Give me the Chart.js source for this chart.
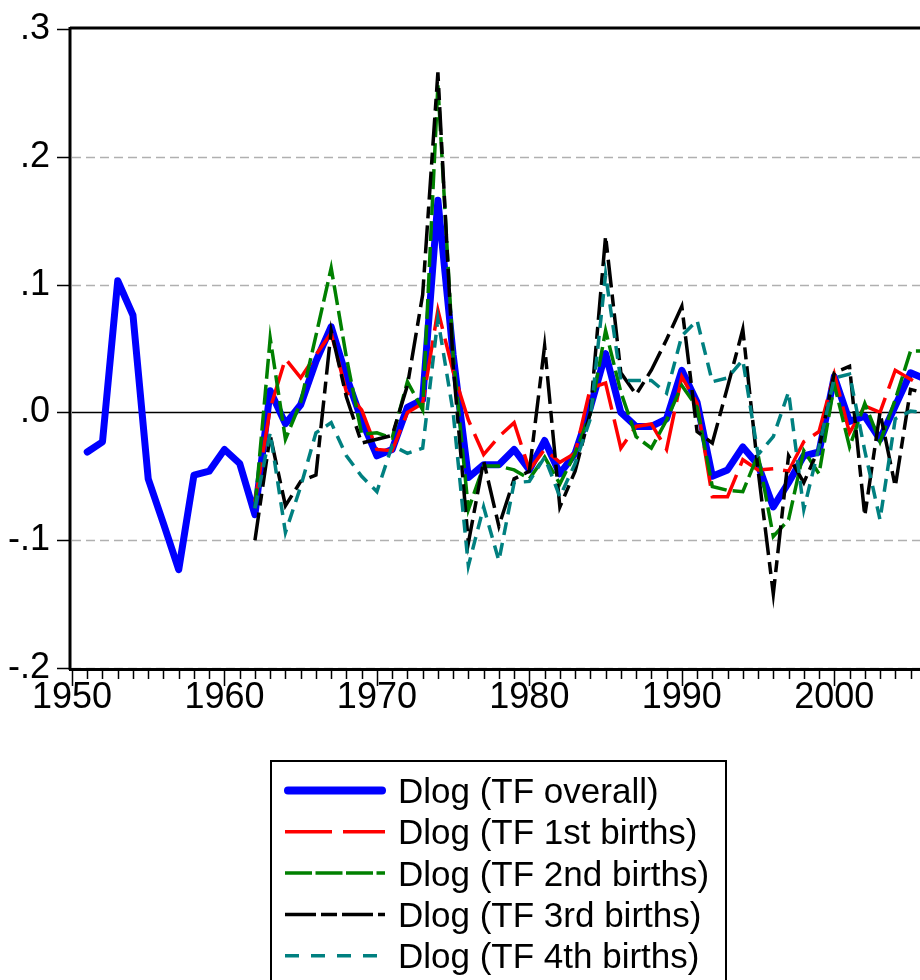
<!DOCTYPE html>
<html>
<head>
<meta charset="utf-8">
<script src="https://cdn.jsdelivr.net/npm/chart.js@4.4.1/dist/chart.umd.min.js"></script>
<style>
  html, body { margin: 0; padding: 0; background: #fff; overflow: hidden; }
  #wrap { position: relative; width: 1000px; height: 980px; }
</style>
</head>
<body>
<div id="wrap"><canvas id="tfChart" width="1000" height="980"></canvas></div>
<script>
// years 1951-2006
const years = [1951, 1952, 1953, 1954, 1955, 1956, 1957, 1958, 1959, 1960,
  1961, 1962, 1963, 1964, 1965, 1966, 1967, 1968, 1969, 1970,
  1971, 1972, 1973, 1974, 1975, 1976, 1977, 1978, 1979, 1980,
  1981, 1982, 1983, 1984, 1985, 1986, 1987, 1988, 1989, 1990,
  1991, 1992, 1993, 1994, 1995, 1996, 1997, 1998, 1999, 2000,
  2001, 2002, 2003, 2004, 2005, 2006];

const seriesNames = ['Dlog (TF overall)', 'Dlog (TF 1st births)', 'Dlog (TF 2nd births)',
  'Dlog (TF 3rd births)', 'Dlog (TF 4th births)'];

const tfOverall = [-0.031, -0.023, 0.103, 0.076, -0.052, -0.087, -0.123, -0.049, -0.046, -0.029,
  -0.040, -0.080, 0.017, -0.009, 0.006, 0.040, 0.067, 0.028, -0.006, -0.034,
  -0.029, 0.004, 0.010, 0.166, 0.045, -0.051, -0.041, -0.041, -0.029, -0.045,
  -0.022, -0.048, -0.032, 0.004, 0.046, 0.000, -0.011, -0.011, -0.005, 0.033,
  0.008, -0.050, -0.045, -0.027, -0.041, -0.074, -0.055, -0.034, -0.031, 0.028,
  -0.007, -0.003, -0.021, 0.005, 0.031, 0.026];

const tf1st = [null, null, null, null, null, null, null, null, null, null,
  null, -0.070, 0.003, 0.042, 0.027, 0.045, 0.062, 0.016, 0.002, -0.029,
  -0.030, 0.000, 0.007, 0.080, 0.032, -0.006, -0.033, -0.019, -0.008, -0.045,
  -0.029, -0.039, -0.032, 0.019, 0.023, -0.028, -0.011, -0.009, -0.029, 0.028,
  0.007, -0.066, -0.066, -0.037, -0.045, -0.044, -0.046, -0.023, -0.015, 0.030,
  -0.016, 0.005, 0.000, 0.033, 0.026, 0.019];

const tf2nd = [null, null, null, null, null, null, null, null, null, null,
  null, -0.075, 0.058, -0.021, 0.008, 0.060, 0.113, 0.043, -0.017, -0.016,
  -0.020, 0.024, 0.002, 0.256, 0.045, -0.076, -0.042, -0.042, -0.045, -0.052,
  -0.035, -0.056, -0.032, -0.001, 0.064, 0.016, -0.019, -0.028, -0.006, 0.021,
  0.004, -0.058, -0.061, -0.062, -0.033, -0.097, -0.084, -0.030, -0.048, 0.022,
  -0.027, 0.007, -0.023, 0.010, 0.048, 0.048];

const tf3rd = [null, null, null, null, null, null, null, null, null, null,
  null, -0.100, -0.018, -0.073, -0.054, -0.049, 0.064, 0.012, -0.024, -0.021,
  -0.018, 0.021, 0.092, 0.266, 0.037, -0.102, -0.038, -0.089, -0.052, -0.046,
  0.052, -0.074, -0.046, 0.000, 0.138, 0.031, 0.014, 0.033, 0.057, 0.083,
  -0.015, -0.024, 0.020, 0.065, -0.045, -0.142, -0.034, -0.055, -0.028, 0.031,
  0.036, -0.081, 0.000, -0.058, 0.018, 0.015];

const tf4th = [null, null, null, null, null, null, null, null, null, null,
  null, -0.075, -0.016, -0.094, -0.058, -0.016, -0.008, -0.034, -0.050, -0.062,
  -0.026, -0.032, -0.028, 0.073, 0.000, -0.120, -0.074, -0.116, -0.055, -0.054,
  -0.035, -0.066, -0.040, -0.005, 0.108, 0.025, 0.025, 0.025, 0.015, 0.060,
  0.072, 0.024, 0.027, 0.041, -0.033, -0.019, 0.016, -0.076, -0.027, 0.027,
  0.030, -0.030, -0.084, -0.005, 0.001, 0.000];

const xTickLabels = ['1950', '1960', '1970', '1980', '1990', '2000'];
const yTickLabels = ['-.2', '-.1', '.0', '.1', '.2', '.3'];

const FONT = '"Liberation Sans", Arial, sans-serif';
Chart.defaults.font.family = FONT;
Chart.defaults.color = '#000';

function pts(vals) {
  return years.map((yr, i) => ({ x: yr, y: vals[i] }));
}

// legend dash patterns (longer than in the plot, like the original)
const legendDash = [[], [47, 11], [27, 3.5], [31, 5, 16, 5], [14, 12]];

const framePlugin = {
  id: 'frame',
  beforeDatasetsDraw(chart) {
    const { ctx, chartArea: a, scales: { y } } = chart;
    ctx.save();
    y.ticks.forEach((t, i) => {
      const py = Math.round(y.getPixelForValue(t.value)) + 0.5;
      if (i === 5) return;
      ctx.beginPath();
      if (i === 2) {
        ctx.setLineDash([]);
        ctx.strokeStyle = '#000';
        ctx.lineWidth = 1.5;
      } else {
        ctx.setLineDash([9, 5]);
        ctx.strokeStyle = '#b0b0b0';
        ctx.lineWidth = 1.5;
      }
      ctx.moveTo(a.left, py);
      ctx.lineTo(a.right, py);
      ctx.stroke();
    });
    ctx.restore();
  },
  afterDatasetsDraw(chart) {
    const { ctx, chartArea: a, scales: { x, y } } = chart;
    ctx.save();
    ctx.setLineDash([]);
    ctx.strokeStyle = '#000';
    // frame
    ctx.lineWidth = 3;
    ctx.beginPath();
    ctx.moveTo(a.left - 2, a.top - 1);
    ctx.lineTo(a.right, a.top - 1);
    ctx.moveTo(a.left - 2, a.top - 2);
    ctx.lineTo(a.left - 2, a.bottom + 2);
    ctx.moveTo(a.left - 3, a.bottom + 1.5);
    ctx.lineTo(a.right, a.bottom + 1.5);
    ctx.moveTo(a.right, a.top - 2);
    ctx.lineTo(a.right, a.bottom + 2);
    ctx.stroke();
    // y ticks
    ctx.lineWidth = 1.5;
    ctx.beginPath();
    y.ticks.forEach(t => {
      const py = Math.round(y.getPixelForValue(t.value)) + 0.5;
      ctx.moveTo(a.left - 15, py);
      ctx.lineTo(a.left - 3, py);
    });
    // x ticks, long ones at decades
    x.ticks.forEach(t => {
      const px = Math.round(x.getPixelForValue(t.value)) + 0.5;
      const len = t.value % 10 === 0 ? 18 : 11;
      ctx.moveTo(px, a.bottom + 2);
      ctx.lineTo(px, a.bottom + len);
    });
    ctx.stroke();
    ctx.restore();
  },
  afterDraw(chart) {
    const ctx = chart.ctx;
    const ds = chart.data.datasets;
    ctx.save();
    ctx.strokeStyle = '#000';
    ctx.lineWidth = 2;
    ctx.strokeRect(271, 761, 455, 240);
    ctx.font = '35px ' + FONT;
    ctx.fillStyle = '#000';
    ctx.textBaseline = 'alphabetic';
    ds.forEach((d, i) => {
      const ry = 790.5 + i * 41.3;
      ctx.beginPath();
      ctx.setLineDash(legendDash[i]);
      ctx.strokeStyle = d.borderColor;
      ctx.lineWidth = i === 0 ? 8 : 3.5;
      ctx.lineCap = i === 0 ? 'round' : 'butt';
      ctx.moveTo(i === 0 ? 288 : 285, ry);
      ctx.lineTo(i === 0 ? 382 : 385, ry);
      ctx.stroke();
      ctx.fillText(d.label, 398, ry + 12.5);
    });
    ctx.restore();
  }
};

new Chart(document.getElementById('tfChart'), {
  type: 'line',
  data: {
    datasets: [
      { label: seriesNames[0], data: pts(tfOverall), borderColor: '#0000ff', borderWidth: 7,
        borderCapStyle: 'round', borderJoinStyle: 'round', order: 5 },
      { label: seriesNames[1], data: pts(tf1st), borderColor: '#ff0000', borderWidth: 3.5,
        borderDash: [40, 10], order: 4 },
      { label: seriesNames[2], data: pts(tf2nd), borderColor: '#008000', borderWidth: 3.5,
        borderDash: [20, 6], order: 3 },
      { label: seriesNames[3], data: pts(tf3rd), borderColor: '#000000', borderWidth: 3.5,
        borderDash: [28, 7, 12, 7], order: 2 },
      { label: seriesNames[4], data: pts(tf4th), borderColor: '#008080', borderWidth: 3.5,
        borderDash: [13, 8], order: 1 }
    ]
  },
  options: {
    responsive: false,
    animation: false,
    devicePixelRatio: 1,
    layout: { padding: { left: 0, right: 59, top: 29, bottom: 0 } },
    elements: { point: { radius: 0 }, line: { tension: 0, fill: false } },
    plugins: { legend: { display: false }, tooltip: { enabled: false } },
    scales: {
      x: {
        type: 'linear', min: 1950, max: 2007,
        afterFit: s => { s.height = 312; },
        grid: { display: false, drawTicks: false },
        border: { display: false },
        ticks: {
          stepSize: 1, autoSkip: false, maxRotation: 0, minRotation: 0, padding: 8,
          font: { size: 36 }, color: '#000',
          callback: v => xTickLabels.find(l => Number(l) === v) || ''
        }
      },
      y: {
        min: -0.2, max: 0.3,
        afterFit: s => { s.width = 72; s.paddingTop = 0; s.paddingBottom = 0; },
        grid: { display: false, drawTicks: false },
        border: { display: false },
        ticks: {
          stepSize: 0.1, padding: 22, font: { size: 36, lineHeight: 1 }, color: '#000',
          callback: (v, i) => yTickLabels[i]
        }
      }
    }
  },
  plugins: [framePlugin]
});
</script>
</body>
</html>
